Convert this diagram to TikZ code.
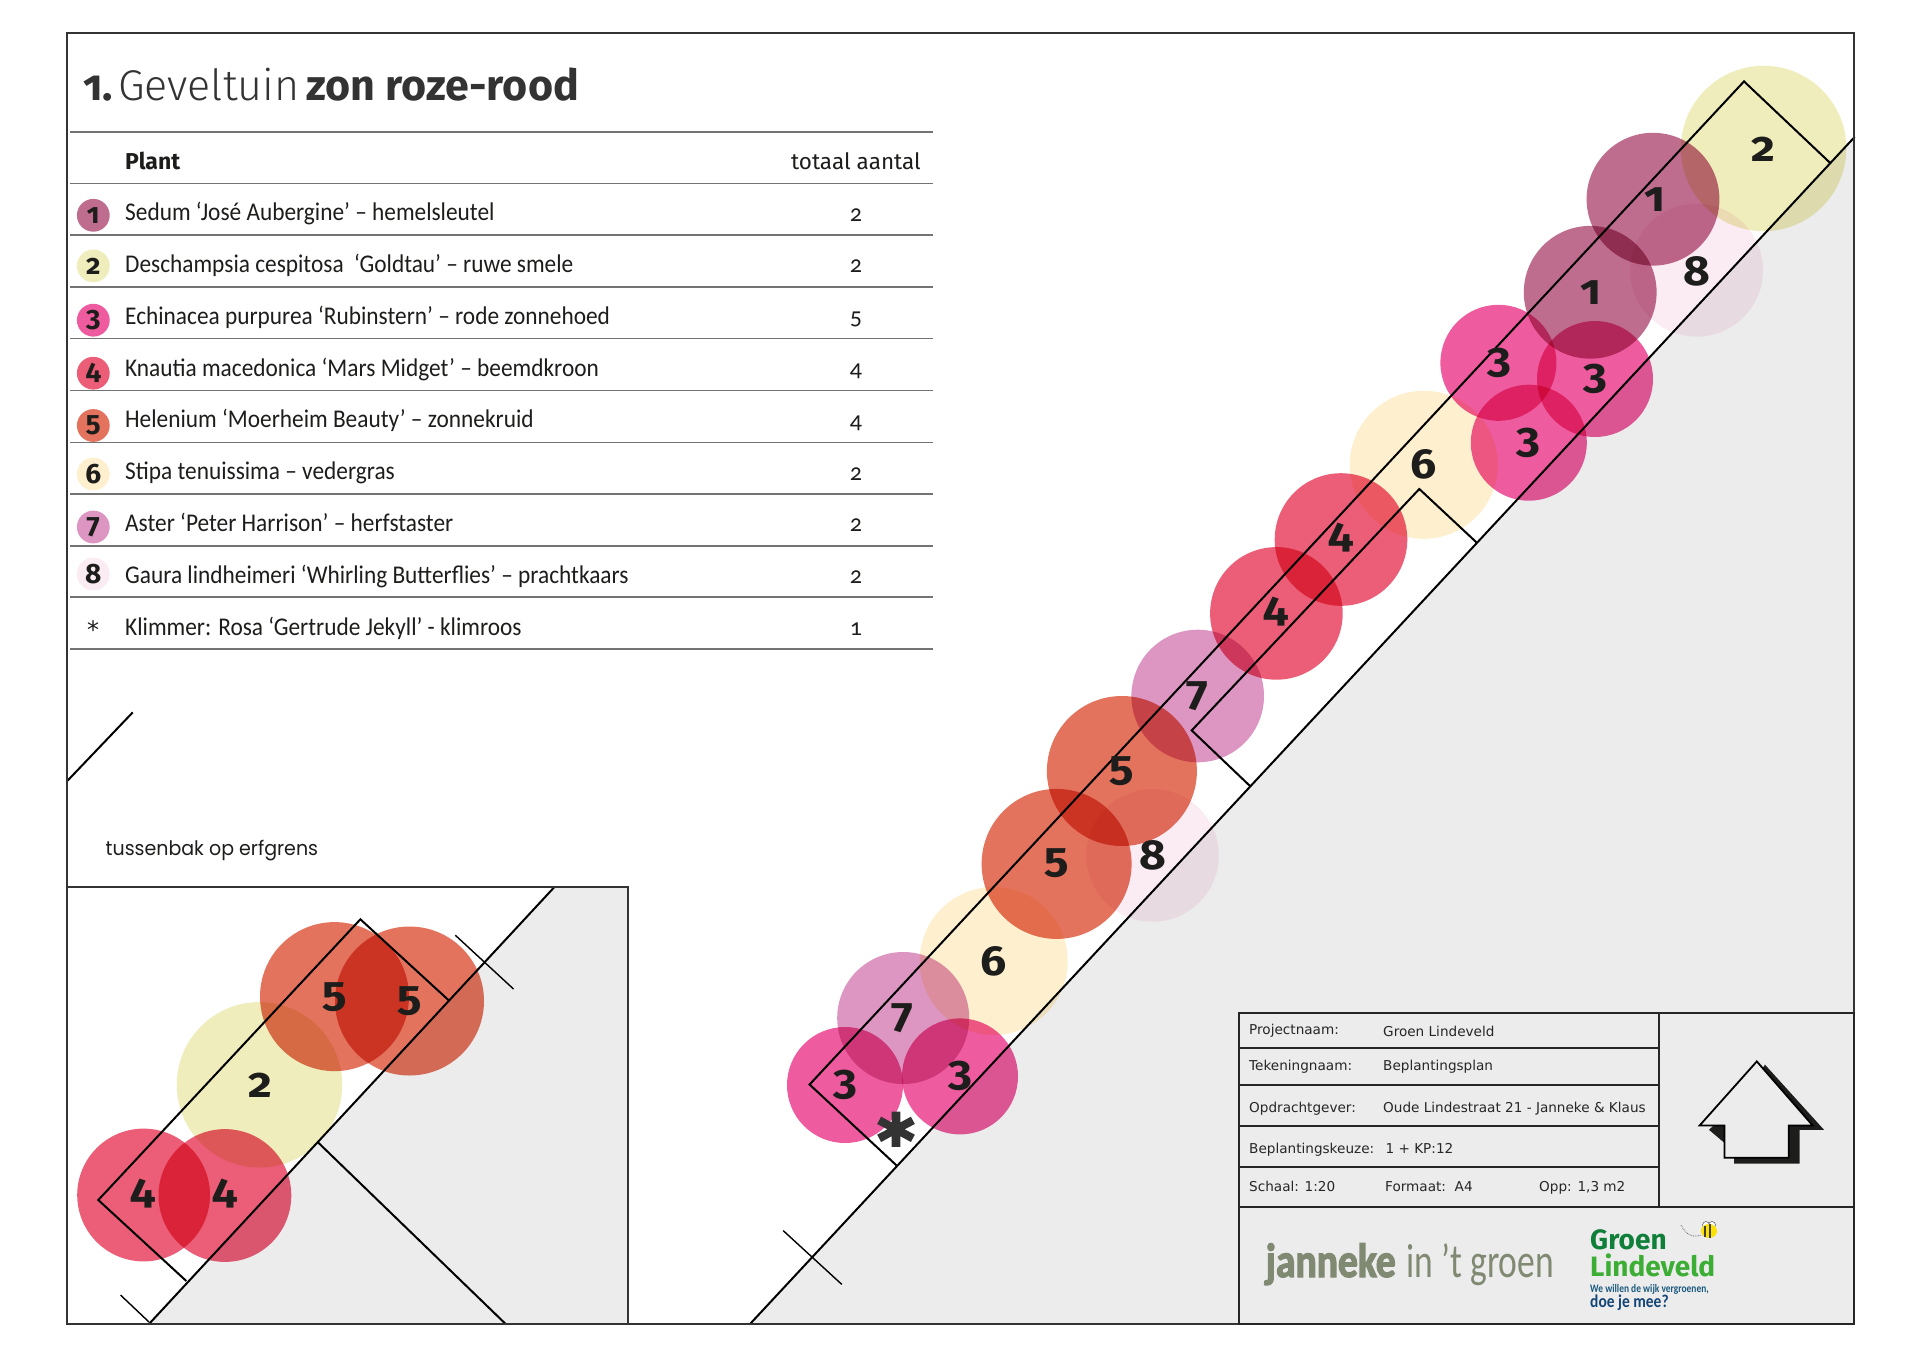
\documentclass[tikz,border=0pt]{standalone}
\usepackage{fontspec}
\setmainfont[Numbers=OldStyle]{Fira Sans}
\newfontfamily\lightf[Numbers=OldStyle]{Fira Sans Light}
\newfontfamily\numf[Numbers=OldStyle,FakeStretch=1.1]{Fira Sans}
\newfontfamily\tblf[Numbers=OldStyle,FakeStretch=0.915]{Carlito}
\newfontfamily\qtyf[Numbers=OldStyle]{Carlito}
\newfontfamily\wide[FakeStretch=0.95]{Poppins}
\newfontfamily\blockf{DejaVu Sans}
\newfontfamily\starf[FakeBold=4]{DejaVu Sans Bold}
\newfontfamily\starl{DejaVu Sans}
\newfontfamily\janf[FakeStretch=0.825,BoldFeatures={FakeBold=2.5}]{Carlito}
\newfontfamily\intf[FakeStretch=0.74]{Carlito}
\newfontfamily\wef[FakeStretch=0.82]{Carlito}
\newfontfamily\doef[FakeStretch=0.86]{Carlito}
\definecolor{c1}{HTML}{BF6D8F}
\definecolor{c2}{HTML}{EFEDBB}
\definecolor{c3}{HTML}{EE5C9F}
\definecolor{c4}{HTML}{EC5E78}
\definecolor{c5}{HTML}{E4735E}
\definecolor{c6}{HTML}{FEF0CF}
\definecolor{c7}{HTML}{DD96C2}
\definecolor{c8}{HTML}{FBECF4}
\definecolor{ground}{HTML}{ECECEC}
\definecolor{ink}{HTML}{1D1D1B}
\definecolor{jgreen}{HTML}{808A72}
\newcommand{\plant}[4]{%
  \fill[c#1,blend mode=multiply] (#2,#3) circle[radius=#4pt];}
\newcommand{\lab}[3]{\node[numlab] at (#2,#3) {#1};}
\newcommand{\rowline}[3]{%
  \pgfmathsetmacro{\ybase}{219.7+51.8*(#1-1)}%
  \pgfmathsetmacro{\yq}{220+51.8*(#1-1)}%
  \node[rowtext] (row#1) at (125,\ybase) {#2};
  \node[qty] (qty#1) at (856,\yq) {#3};}
\begin{document}
\begin{tikzpicture}[x=1pt,y=-1pt,
  numlab/.style={font=\numf\fontsize{42}{42}\selectfont\bfseries,text=ink,inner sep=0pt},
  leglab/.style={font=\fontsize{28}{28}\selectfont\bfseries,text=ink,inner sep=0pt},
  rowtext/.style={font=\tblf\fontsize{25.5}{30}\selectfont,text=ink,anchor=base west,inner sep=0pt},
  qty/.style={font=\qtyf\fontsize{24}{30}\selectfont,text=ink,anchor=base,inner sep=0pt},
  tline/.style={draw=black!55,line width=1.6pt},
  planline/.style={draw=black,line width=2pt,line join=miter},
  thin/.style={draw=black,line width=1.4pt},
  blockline/.style={draw=black!85,line width=2pt},
  blocktext/.style={font=\blockf\fontsize{13.6}{16}\selectfont,text=black!85,anchor=base west,inner sep=0pt},
]
\useasboundingbox (0,0) rectangle (1920,1358);
\fill[white] (0,0) rectangle (1920,1358);
\begin{scope}[shift={(0,1)}]
% ground
\fill[ground] (750,1323) -- (1853.5,137.6) -- (1853.5,1323) -- cycle;
\fill[white] (67.6,885.6) rectangle (628.3,1323);
\fill[ground] (149,1323) -- (554.8,885.6) -- (628.3,885.6) -- (628.3,1323) -- cycle;
% plants, main bed
\plant{3}{845}{1084}{58}
\plant{3}{960}{1075.4}{58}
\plant{7}{903.2}{1017}{66}
\plant{6}{993.7}{960}{74}
\plant{5}{1056.6}{862.9}{75}
\plant{5}{1121.9}{770}{75}
\plant{8}{1152.5}{854.4}{66.3}
\plant{7}{1197.7}{695}{66.3}
\plant{4}{1276.4}{612.4}{66.3}
\plant{4}{1341}{538.5}{66.3}
\plant{6}{1423.8}{463.8}{74}
\plant{3}{1528.8}{441.7}{58}
\plant{3}{1498.4}{361.8}{58}
\plant{3}{1595}{378}{58}
\plant{1}{1590.2}{291.3}{66.4}
\plant{1}{1653}{198.2}{66.4}
\plant{8}{1696.6}{269.2}{66.4}
\plant{2}{1763.6}{147.5}{82.7}
% plants, inset
\plant{5}{334.5}{995.6}{74.5}
\plant{5}{409.5}{1000}{74.5}
\plant{2}{259.5}{1083.8}{82.7}
\plant{4}{143.6}{1194}{66.4}
\plant{4}{224.9}{1194.5}{66.4}
% main bed lines
\coordinate (dgA) at (750,1323);
\coordinate (dgB) at (1854.6,136);
\coordinate (bedL) at (809.6,1083.5);
\coordinate (bedB) at (896.4,1164.3);
\coordinate (bedT) at (1744,80.4);
\coordinate (bedR) at (1830,161.8);
\draw[planline] (dgA) -- (dgB);
\draw[planline] (bedB) -- (bedL) -- (bedT) -- (bedR);
\draw[planline] (1250,785) -- (1191.7,729.4) -- (1419.3,488) -- (1476.5,541.4);
\draw[thin] (783.2,1229.6) -- (841.8,1283.4);
\draw[planline] (67.6,779.6) -- (132.7,711.4);
% inset lines
\draw[planline] (149,1323) -- (554.8,885.6);
\draw[planline] (317.2,1140.6) -- (505.7,1323);
\draw[planline] (186.3,1280) -- (98.3,1199) -- (360.4,918.3) -- (448.4,999);
\draw[thin] (120.5,1294) -- (149,1321);
\draw[thin] (455.3,934.2) -- (513.5,988);
% frames
\draw[draw=black!80,line width=1.8pt] (67.6,885.6) -- (628.3,885.6) -- (628.3,1323);
\draw[draw=black!80,line width=2pt] (67.3,32) rectangle (1853.5,1323);
% plan labels
\lab{3}{845.3}{1083.5}
\lab{3}{960.3}{1074.5}
\lab{7}{902.5}{1017.4}
\lab{6}{993.5}{960}
\lab{5}{1057}{862.4}
\lab{5}{1122}{770}
\lab{8}{1152.5}{854.2}
\lab{7}{1197}{695.5}
\lab{4}{1276}{610.7}
\lab{4}{1340.7}{537}
\lab{6}{1423.8}{463.8}
\lab{3}{1528.8}{442}
\lab{3}{1499}{362}
\lab{3}{1595}{377.5}
\lab{1}{1591.4}{291.7}
\lab{1}{1654.6}{198.7}
\lab{8}{1696.9}{270}
\lab{2}{1763.5}{148.7}
\lab{5}{334.4}{995.8}
\lab{5}{409.4}{1000}
\lab{2}{260}{1084}
\lab{4}{143.4}{1193}
\lab{4}{224.6}{1193}
\node[font=\starf\fontsize{70}{70}\selectfont,text=black!80,inner sep=0pt,anchor=base] (star) at (896,1164) {*};
% title
\node[anchor=base west,inner sep=0pt,font=\fontsize{43}{48}\selectfont\bfseries,text=black!80] (tnum) at (83,99.4) {1.};
\node[anchor=base west,inner sep=0pt,font=\lightf\fontsize{43}{48}\selectfont,text=black!80] (tlight) at (118,99.4) {Geveltuin};
\node[anchor=base west,inner sep=0pt,font=\fontsize{43}{48}\selectfont\bfseries,text=black!80] (tbold) at (306,99.4) {zon roze-rood};
% table
\foreach \yy in {130.7,182.6,234.2,285.8,337.5,389.5,441.3,493,544.8,596.2,648.1}
  \draw[tline] (70,\yy) -- (932.5,\yy);
\node[anchor=base west,inner sep=0pt,font=\fontsize{23}{28}\selectfont\bfseries,text=ink] (plantH) at (125,168.7) {Plant};
\node[anchor=base east,inner sep=0pt,font=\fontsize{22.5}{28}\selectfont,text=ink] (totH) at (921,168.7) {totaal aantal};
\foreach \n/\yy in {1/214.3,2/264.9,3/319.2,4/372.2,5/424.5,6/473,7/526,8/573}{
  \fill[c\n] (93.3,\yy) circle[radius=16.4pt];
  \node[leglab] (leg\n) at (93.3,\yy) {\n};
}
\node[inner sep=0pt,font=\starl\fontsize{24}{24}\selectfont,text=ink,anchor=base] (legstar) at (93,637) {*};
\rowline{1}{Sedum ‘José Aubergine’ – hemelsleutel}{2}
\rowline{2}{Deschampsia cespitosa\ \ ‘Goldtau’ – ruwe smele}{2}
\rowline{3}{Echinacea purpurea ‘Rubinstern’ – rode zonnehoed}{5}
\rowline{4}{Knautia macedonica ‘Mars Midget’ – beemdkroon}{4}
\rowline{5}{Helenium ‘Moerheim Beauty’ – zonnekruid}{4}
\rowline{6}{Stipa tenuissima – vedergras}{2}
\rowline{7}{Aster ‘Peter Harrison’ – herfstaster}{2}
\rowline{8}{Gaura lindheimeri ‘Whirling Butterflies’ – prachtkaars}{2}
\rowline{9}{Klimmer: Rosa ‘Gertrude Jekyll’ - klimroos}{1}
\node[anchor=base west,inner sep=0pt,font=\wide\fontsize{20}{26}\selectfont,text=ink] (tuss) at (105.5,854) {tussenbak op erfgrens};
% title block
\draw[blockline] (1239,1012) rectangle (1853.5,1323);
\draw[blockline] (1659.4,1012) -- (1659.4,1205.8);
\foreach \yy in {1046.8,1084,1124.8,1166.3}
  \draw[blockline] (1239,\yy) -- (1659.4,\yy);
\draw[blockline] (1239,1205.8) -- (1853.5,1205.8);
\node[blocktext] (b1) at (1249,1033) {Projectnaam:};
\node[blocktext] (b1v) at (1383,1035) {Groen Lindeveld};
\node[blocktext] (b2) at (1249,1069) {Tekeningnaam:};
\node[blocktext] (b2v) at (1383,1069) {Beplantingsplan};
\node[blocktext] (b3) at (1249,1111) {Opdrachtgever:};
\node[blocktext] (b3v) at (1383,1111) {Oude Lindestraat 21 - Janneke \& Klaus};
\node[blocktext] (b4) at (1249,1152) {Beplantingskeuze:};
\node[blocktext] (b4v) at (1385.4,1152) {1 + KP:12};
\node[blocktext] (b5) at (1249,1190) {Schaal: 1:20};
\node[blocktext] (b5b) at (1385,1190) {Formaat:\ \ A4};
\node[blocktext] (b5c) at (1539,1190) {Opp: 1,3 m2};
% house
\fill[ink] (1765,1063.7) -- (1824,1128.8) -- (1799.5,1128.8) -- (1799.5,1162.7) -- (1734,1162.7) -- (1734,1150) -- (1709,1128.8) -- (1740,1100) -- cycle;
\filldraw[fill=ground,draw=black,line width=1.8pt,line join=miter] (1756.8,1060.4) -- (1812.7,1124.5) -- (1788.7,1124.5) -- (1788.7,1156.7) -- (1724.4,1156.7) -- (1724.4,1124.5) -- (1699.6,1124.5) -- cycle;
% logos
\node[anchor=base west,inner sep=0pt,font=\janf\bfseries\fontsize{48}{50}\selectfont,text=jgreen] (jan) at (1265.6,1276) {janneke};
\node[anchor=base west,inner sep=0pt,font=\intf\fontsize{48}{50}\selectfont,text=jgreen] (int) at (1406.5,1276) {in ’t groen};
\node[anchor=base west,inner sep=0pt,font=\bfseries\fontsize{28}{30}\selectfont,text={rgb,255:red,15;green,127;blue,58}] (gr) at (1590,1248) {Groen};
\node[anchor=base west,inner sep=0pt,font=\bfseries\fontsize{28}{30}\selectfont,text={rgb,255:red,61;green,174;blue,53}] (li) at (1590,1275) {Lindeveld};
\node[anchor=base west,inner sep=0pt,font=\wef\bfseries\fontsize{11.5}{14}\selectfont,text={rgb,255:red,27;green,90;blue,127}] (we) at (1590,1291.5) {We willen de wijk vergroenen,};
\node[anchor=base west,inner sep=0pt,font=\doef\bfseries\fontsize{18}{20}\selectfont,text={rgb,255:red,20;green,70;blue,120}] (doe) at (1590,1306.5) {doe je mee?};
% bee
\draw[black!70,line width=0.7pt,densely dotted] (1681,1224) .. controls (1686,1234) and (1693,1237) .. (1701,1234);
\filldraw[fill=white,draw=black!70,line width=0.5pt] (1706,1224) circle[radius=3.5pt];
\filldraw[fill=white,draw=black!70,line width=0.5pt] (1712,1224) circle[radius=3.5pt];
\fill[yellow!85!orange] (1709,1230) ellipse[x radius=8pt,y radius=7pt];
\fill[black!75] (1704,1224.5) rectangle (1706,1235.5);
\fill[black!75] (1709,1223) rectangle (1711,1237);
\end{scope}
\end{tikzpicture}
\end{document}
